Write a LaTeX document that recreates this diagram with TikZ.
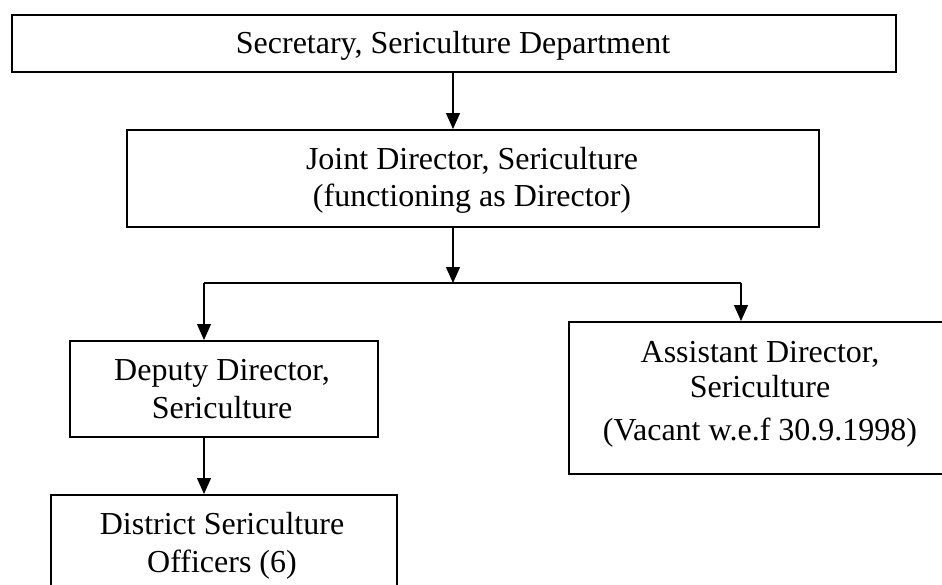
\documentclass[tikz,border=0pt]{standalone}
\usepackage{fontspec}
\setmainfont{Liberation Serif}
\usetikzlibrary{arrows.meta}
\begin{document}
\begin{tikzpicture}[x=1pt,y=-1pt,
  box/.style={draw=black, line width=1.8pt, fill=white, inner sep=0pt, anchor=north west},
  lbl/.style={anchor=base, inner sep=0pt, font=\fontsize{32}{37}\selectfont},
  conn/.style={line width=1.3pt, -{Triangle[width=14pt,length=16pt]}},
  bar/.style={line width=1.8pt}]
\useasboundingbox (0,0) rectangle (942,584);
% boxes
\node[box, minimum width=884pt, minimum height=57pt] (b1) at (11,14) {};
\node[box, minimum width=692pt, minimum height=97pt] (b2) at (126,129) {};
\node[box, minimum width=308pt, minimum height=96pt] (b3) at (69,340) {};
\node[box, minimum width=382pt, minimum height=152pt] (b4) at (568,321) {};
\node[box, minimum width=346pt, minimum height=94pt] (b5) at (50,494) {};
% texts
\node[lbl] (t1) at (453,53) {Secretary, Sericulture Department};
\node[lbl] (t2a) at (472,169) {Joint Director, Sericulture};
\node[lbl] (t2b) at (472,206) {(functioning as Director)};
\node[lbl] (t3a) at (222,380) {Deputy Director,};
\node[lbl] (t3b) at (222,418) {Sericulture};
\node[lbl] (t4a) at (760,362) {Assistant Director,};
\node[lbl] (t4b) at (760,397) {Sericulture};
\node[lbl] (t4c) at (760,440) {(Vacant w.e.f 30.9.1998)};
\node[lbl] (t5a) at (222,534) {District Sericulture};
\node[lbl] (t5b) at (222,572) {Officers (6)};
% junction coordinates
\coordinate (j) at (453,283);
\coordinate (jl) at (204,283);
\coordinate (jr) at (741,283);
% connectors
\draw[conn] (j |- b1.south) -- (j |- b2.north);
\draw[conn] (j |- b2.south) -- (j);
\draw[bar] (jl) -- (jr);
\draw[conn] (jl) -- (jl |- b3.north);
\draw[conn] (jr) -- (jr |- b4.north);
\draw[conn] (jl |- b3.south) -- (jl |- b5.north);
\end{tikzpicture}
\end{document}
